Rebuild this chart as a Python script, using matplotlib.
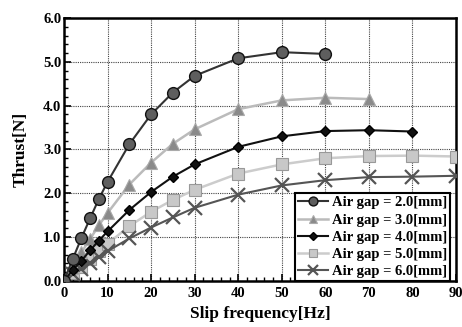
import matplotlib
matplotlib.use("Agg")
import matplotlib.pyplot as plt
from matplotlib.ticker import MultipleLocator

# Slip frequency [Hz]
freq = [0, 2, 4, 6, 8, 10, 15, 20, 25, 30, 40, 50, 60, 70, 80, 90]

# Thrust [N] per air gap
gap_20 = [0, 0.50, 0.98, 1.43, 1.87, 2.26, 3.12, 3.80, 4.30, 4.68, 5.08, 5.22, 5.18]
gap_30 = [0, 0.30, 0.65, 0.96, 1.27, 1.55, 2.20, 2.70, 3.13, 3.46, 3.92, 4.12, 4.18, 4.15]
gap_40 = [0, 0.25, 0.46, 0.70, 0.92, 1.13, 1.62, 2.03, 2.38, 2.66, 3.06, 3.30, 3.42, 3.44, 3.41]
gap_50 = [0, 0.18, 0.33, 0.50, 0.68, 0.85, 1.25, 1.58, 1.85, 2.08, 2.45, 2.66, 2.80, 2.85, 2.86, 2.84]
gap_60 = [0, 0.15, 0.28, 0.40, 0.55, 0.68, 0.97, 1.22, 1.45, 1.67, 1.97, 2.18, 2.30, 2.37, 2.38, 2.40]

labels = ["Air gap = 2.0[mm]", "Air gap = 3.0[mm]", "Air gap = 4.0[mm]",
          "Air gap = 5.0[mm]", "Air gap = 6.0[mm]"]

plt.rcParams["font.family"] = ["Liberation Serif", "DejaVu Serif"]
plt.rcParams["font.weight"] = "bold"

fig = plt.figure(figsize=(4.62, 3.27), dpi=100)
ax = fig.add_axes([0.1385, 0.1407, 0.8485, 0.8043])

ax.plot(freq[:len(gap_20)], gap_20, color="#333333", lw=1.5, marker="o", ms=8.5,
        mfc="#5e5e5e", mec="#111111", mew=1.0, label=labels[0], zorder=6)
ax.plot(freq[:len(gap_30)], gap_30, color="#bbbbbb", lw=1.8, marker="^", ms=8,
        mfc="#8a8a8a", mec="#aaaaaa", mew=0.8, label=labels[1], zorder=5)
ax.plot(freq[:len(gap_40)], gap_40, color="#111111", lw=1.5, marker="D", ms=5.5,
        mfc="#111111", mec="#000000", label=labels[2], zorder=5)
ax.plot(freq[:len(gap_50)], gap_50, color="#cccccc", lw=1.8, marker="s", ms=8,
        mfc="#c8c8c8", mec="#999999", mew=0.8, label=labels[3], zorder=4)
ax.plot(freq[:len(gap_60)], gap_60, color="#555555", lw=1.5, marker="x", ms=10,
        mec="#555555", mew=1.6, label=labels[4], zorder=4)

ax.set_xlim(0, 90)
ax.set_ylim(0, 6)
ax.xaxis.set_major_locator(MultipleLocator(10))
ax.xaxis.set_minor_locator(MultipleLocator(2))
ax.yaxis.set_major_locator(MultipleLocator(1))
ax.yaxis.set_minor_locator(MultipleLocator(0.2))
ax.set_yticklabels([f"{v:.1f}" for v in ax.get_yticks()])

ax.tick_params(which="both", direction="in", top=False, right=False, labelsize=10.5)
ax.tick_params(axis="y", pad=2)
ax.tick_params(axis="x", pad=4)
ax.tick_params(which="major", length=5, width=1.2)
ax.tick_params(which="minor", length=3, width=1.0)
for s in ax.spines.values():
    s.set_linewidth(1.8)

ax.grid(True, which="major", ls=(0, (1, 1)), color="#444444", lw=0.8)
ax.set_axisbelow(True)

ax.set_xlabel("Slip frequency[Hz]", fontsize=12.5, fontweight="bold", labelpad=5)
ax.set_ylabel("Thrust[N]", fontsize=12.5, fontweight="bold", labelpad=10)

leg = ax.legend(loc="lower right", bbox_to_anchor=(0.985, 0.0), fontsize=10.5,
                frameon=True, fancybox=False, edgecolor="black", framealpha=1,
                handlelength=2.0, borderpad=0.2, labelspacing=0.27, handletextpad=0.3,
                borderaxespad=0.0, markerscale=0.75)
leg.get_frame().set_linewidth(1.5)
leg.set_zorder(10)

fig.savefig("out.png", dpi=100)
